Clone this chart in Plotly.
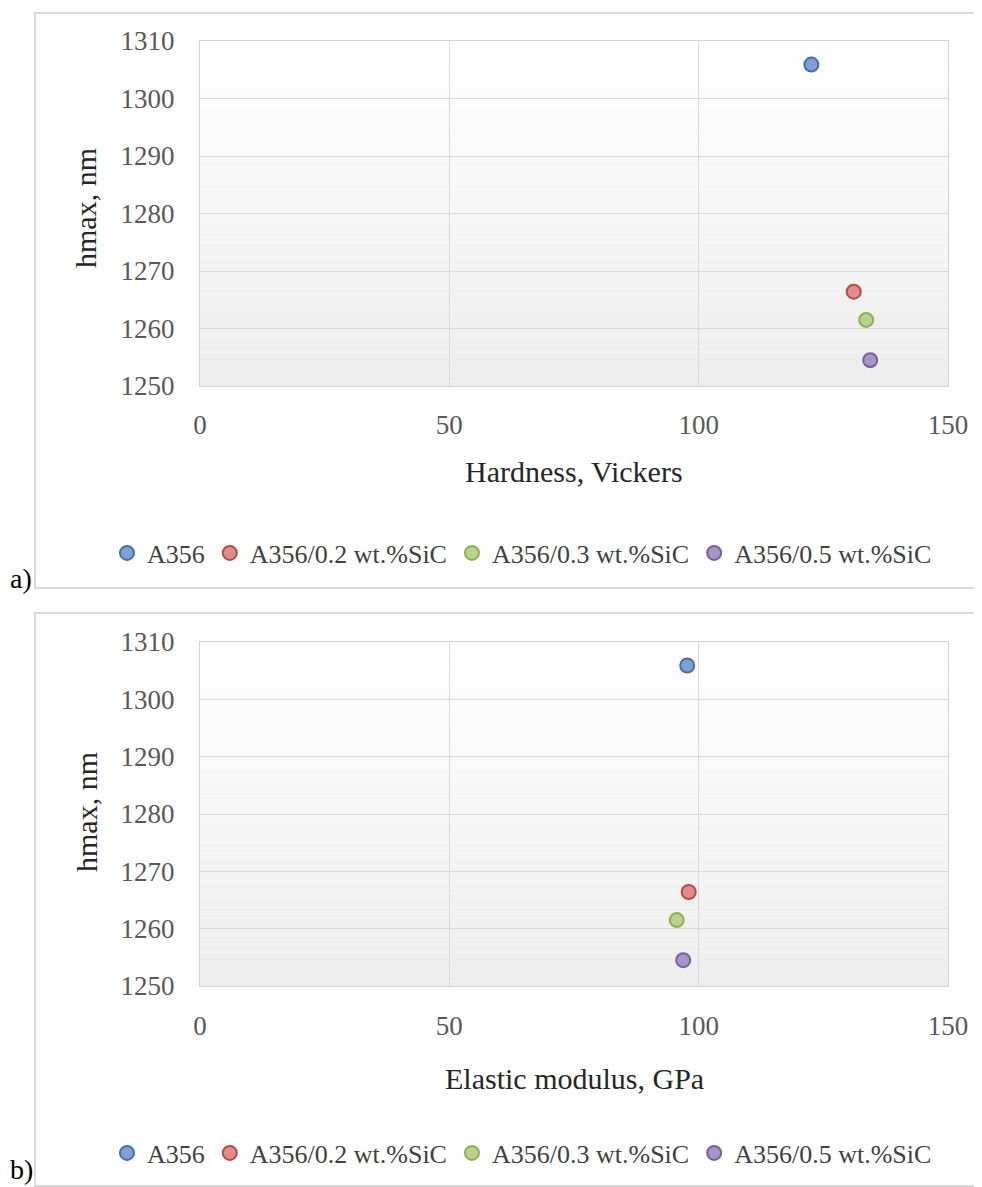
import plotly.graph_objects as go

# ---- data ----
series_names = ["A356", "A356/0.2 wt.%SiC", "A356/0.3 wt.%SiC", "A356/0.5 wt.%SiC"]
hmax_nm = [1305.9, 1266.4, 1261.5, 1254.5]
hardness_hv = [122.6, 131.1, 133.6, 134.4]
modulus_gpa = [97.7, 98.0, 95.6, 96.9]
x_ticks = [0, 50, 100, 150]
y_ticks = [1250, 1260, 1270, 1280, 1290, 1300, 1310]

fill_colors = ["#7f9fd3", "#df8c8a", "#b8d28e", "#a596c6"]
edge_colors = ["#4a6fa5", "#b84a47", "#8fb050", "#7560a0"]

# the page body adds an 8px margin; work in reference-page pixels and convert
OFF = 8
W, H = 982 - OFF, 1187 - OFF
SERIF = "'Liberation Serif', 'Times New Roman', 'DejaVu Serif', serif"

def px_x(x):
    return (x - OFF) / W

def px_y(y):
    return 1 - (y - OFF) / H

fig = go.Figure()

for i, name in enumerate(series_names):
    fig.add_trace(go.Scatter(
        x=[hardness_hv[i]], y=[hmax_nm[i]], mode="markers", name=name,
        marker=dict(size=14, color=fill_colors[i], line=dict(color=edge_colors[i], width=2)),
        xaxis="x", yaxis="y", legend="legend",
    ))
for i, name in enumerate(series_names):
    fig.add_trace(go.Scatter(
        x=[modulus_gpa[i]], y=[hmax_nm[i]], mode="markers", name=name,
        marker=dict(size=14, color=fill_colors[i], line=dict(color=edge_colors[i], width=2)),
        xaxis="x2", yaxis="y2", legend="legend2",
    ))

xdom = [px_x(200), px_x(948)]
ydom_a = [px_y(386), px_y(41)]
ydom_b = [px_y(986), px_y(642)]

axis_common = dict(
    showgrid=True, gridcolor="#d9d9d9", gridwidth=1,
    showline=True, mirror=True, linecolor="#d3d3d3", linewidth=1,
    zeroline=False, automargin=False,
    tickfont=dict(family=SERIF, size=27, color="#595959"),
    ticks="outside", tickcolor="rgba(0,0,0,0)",
)

legend_common = dict(orientation="h", x=px_x(522), xanchor="center", yanchor="middle",
                     font=dict(family=SERIF, size=26, color="#404040"), itemwidth=30,
                     bgcolor="rgba(0,0,0,0)")

fig.update_layout(
    width=W, height=H,
    margin=dict(l=0, r=0, t=0, b=0),
    paper_bgcolor="white", plot_bgcolor="white",
    showlegend=True,
    xaxis=dict(domain=xdom, range=[0, 150], tickvals=x_ticks, anchor="y", ticklen=15, **axis_common),
    yaxis=dict(domain=ydom_a, range=[1250, 1310], tickvals=y_ticks, anchor="x", ticklen=19, **axis_common),
    xaxis2=dict(domain=xdom, range=[0, 150], tickvals=x_ticks, anchor="y2", ticklen=16, **axis_common),
    yaxis2=dict(domain=ydom_b, range=[1250, 1310], tickvals=y_ticks, anchor="x2", ticklen=19, **axis_common),
    legend=dict(y=px_y(553), **legend_common),
    legend2=dict(y=px_y(1153), **legend_common),
)

# background gradient inside plot areas (white at top to light grey at bottom)
shapes = []
n_bands = 60
for xr, yr in [("x domain", "y domain"), ("x2 domain", "y2 domain")]:
    for k in range(n_bands):
        t = (k + 0.5) / n_bands  # 0 at bottom, 1 at top
        v = int(round(237 + (255 - 237) * t))
        shapes.append(dict(type="rect", xref=xr, yref=yr, x0=0, x1=1,
                           y0=k / n_bands, y1=(k + 1) / n_bands,
                           fillcolor=f"rgb({v},{v},{v})", line=dict(width=0), layer="below"))

# outer chart frames
for top, bottom in [(13, 588), (613, 1186)]:
    shapes.append(dict(type="rect", xref="paper", yref="paper",
                       x0=px_x(35), x1=1.02, y0=px_y(bottom), y1=px_y(top),
                       line=dict(color="#d9d9d9", width=2), fillcolor="rgba(0,0,0,0)", layer="below"))
fig.update_layout(shapes=shapes)

xmid = (xdom[0] + xdom[1]) / 2
title_font = dict(family=SERIF, size=30, color="#262626")
annotations = [
    dict(text="Hardness, Vickers", x=xmid, y=px_y(472), xref="paper", yref="paper",
         showarrow=False, font=title_font, yanchor="middle"),
    dict(text="Elastic modulus, GPa", x=xmid, y=px_y(1078), xref="paper", yref="paper",
         showarrow=False, font=title_font, yanchor="middle"),
    dict(text="hmax, nm", x=px_x(86), y=px_y(208), xref="paper", yref="paper", textangle=-90,
         showarrow=False, font=title_font, xanchor="center", yanchor="middle"),
    dict(text="hmax, nm", x=px_x(86), y=px_y(812), xref="paper", yref="paper", textangle=-90,
         showarrow=False, font=title_font, xanchor="center", yanchor="middle"),
    dict(text="a)", x=0, y=px_y(578), xref="paper", yref="paper", showarrow=False,
         xanchor="left", yanchor="middle", font=dict(family=SERIF, size=28, color="black")),
    dict(text="b)", x=0, y=0, xref="paper", yref="paper", showarrow=False,
         xanchor="left", yanchor="bottom", font=dict(family=SERIF, size=28, color="black")),
]
fig.update_layout(annotations=annotations)

fig.write_html("out.html")
